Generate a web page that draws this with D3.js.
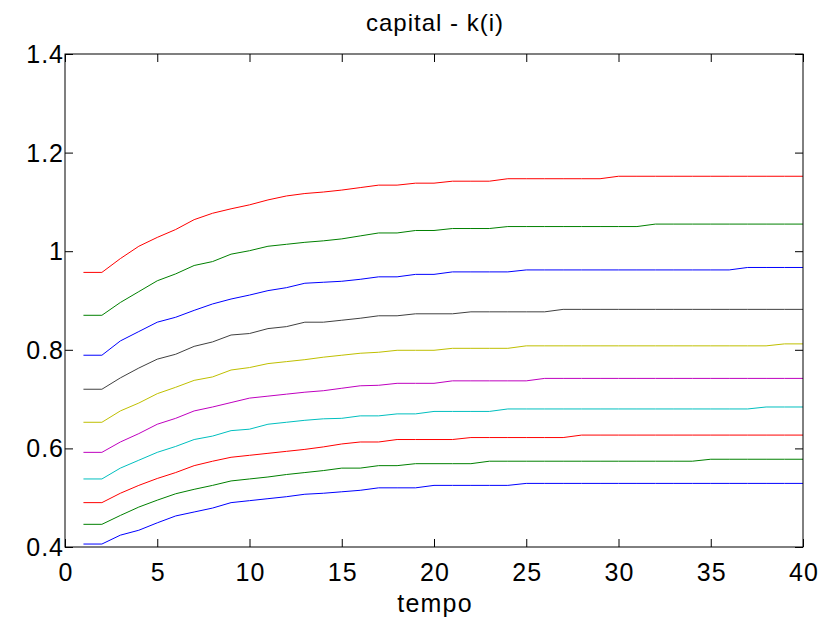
<!DOCTYPE html>
<html>
<head>
<meta charset="utf-8">
<script src="https://cdn.jsdelivr.net/npm/d3@7"></script>
<style>
  body { margin: 0; background: #fff; }
  svg text { font-family: "Liberation Sans", Arial, sans-serif; fill: #000; }
</style>
</head>
<body>
<svg id="chart"></svg>
<script>
// tempo (x) and the ten capital paths k(i), bottom to top
var tempo = [1,2,3,4,5,6,7,8,9,10,11,12,13,14,15,16,17,18,19,20,
             21,22,23,24,25,26,27,28,29,30,31,32,33,34,35,36,37,38,39,40];

var k1 = [0.406,0.406,0.424,0.434,0.449,0.463,0.471,0.479,0.490,0.494,0.498,0.502,0.507,0.509,0.512,0.515,0.520,0.520,0.520,0.525,
          0.525,0.525,0.525,0.525,0.529,0.529,0.529,0.529,0.529,0.529,0.529,0.529,0.529,0.529,0.529,0.529,0.529,0.529,0.529,0.529];
var k2 = [0.446,0.446,0.464,0.481,0.495,0.508,0.517,0.525,0.534,0.538,0.542,0.547,0.551,0.555,0.560,0.560,0.565,0.565,0.569,0.569,
          0.569,0.569,0.574,0.574,0.574,0.574,0.574,0.574,0.574,0.574,0.574,0.574,0.574,0.574,0.578,0.578,0.578,0.578,0.578,0.578];
var k3 = [0.490,0.490,0.509,0.525,0.539,0.551,0.565,0.574,0.582,0.586,0.590,0.594,0.598,0.603,0.609,0.613,0.613,0.618,0.618,0.618,
          0.618,0.622,0.622,0.622,0.622,0.622,0.622,0.627,0.627,0.627,0.627,0.627,0.627,0.627,0.627,0.627,0.627,0.627,0.627,0.627];
var k4 = [0.538,0.538,0.560,0.576,0.592,0.604,0.618,0.625,0.636,0.639,0.649,0.653,0.657,0.660,0.661,0.666,0.666,0.670,0.670,0.675,
          0.675,0.675,0.675,0.680,0.680,0.680,0.680,0.680,0.680,0.680,0.680,0.680,0.680,0.680,0.680,0.680,0.680,0.684,0.684,0.684];
var k5 = [0.592,0.592,0.613,0.630,0.649,0.661,0.676,0.684,0.693,0.702,0.706,0.710,0.714,0.717,0.722,0.727,0.728,0.732,0.732,0.732,
          0.737,0.737,0.737,0.737,0.737,0.742,0.742,0.742,0.742,0.742,0.742,0.742,0.742,0.742,0.742,0.742,0.742,0.742,0.742,0.742];
var k6 = [0.653,0.653,0.676,0.692,0.711,0.724,0.738,0.745,0.759,0.764,0.772,0.776,0.780,0.785,0.789,0.793,0.795,0.799,0.799,0.799,
          0.803,0.803,0.803,0.803,0.808,0.808,0.808,0.808,0.808,0.808,0.808,0.808,0.808,0.808,0.808,0.808,0.808,0.808,0.812,0.812];
var k7 = [0.720,0.720,0.743,0.763,0.781,0.791,0.807,0.816,0.830,0.833,0.843,0.847,0.856,0.856,0.860,0.864,0.869,0.869,0.873,0.873,
          0.873,0.877,0.877,0.877,0.877,0.877,0.882,0.882,0.882,0.882,0.882,0.882,0.882,0.882,0.882,0.882,0.882,0.882,0.882,0.882];
var k8 = [0.789,0.789,0.818,0.837,0.856,0.866,0.880,0.893,0.903,0.911,0.920,0.926,0.935,0.937,0.939,0.943,0.948,0.948,0.953,0.953,
          0.958,0.958,0.958,0.958,0.962,0.962,0.962,0.962,0.962,0.962,0.962,0.962,0.962,0.962,0.962,0.962,0.967,0.967,0.967,0.967];
var k9 = [0.870,0.870,0.896,0.918,0.940,0.954,0.971,0.979,0.994,1.001,1.010,1.014,1.018,1.021,1.025,1.031,1.037,1.037,1.042,1.042,
          1.046,1.046,1.046,1.050,1.050,1.050,1.050,1.050,1.050,1.050,1.050,1.055,1.055,1.055,1.055,1.055,1.055,1.055,1.055,1.055];
var k10 = [0.957,0.957,0.985,1.010,1.028,1.044,1.064,1.077,1.086,1.094,1.104,1.112,1.117,1.120,1.124,1.129,1.134,1.134,1.138,1.138,
           1.142,1.142,1.142,1.147,1.147,1.147,1.147,1.147,1.147,1.152,1.152,1.152,1.152,1.152,1.152,1.152,1.152,1.152,1.152,1.152];

var series = [k1, k2, k3, k4, k5, k6, k7, k8, k9, k10];
var xTicks = [0,5,10,15,20,25,30,35,40];
var yTicks = [0.4,0.6,0.8,1.0,1.2,1.4];

// matlab default color order
var colores = ["#0000ff","#008000","#ff0000","#00bfbf","#bf00bf","#bfbf00","#404040"];

var config = { width: 823, height: 629, left: 65, right: 20, top: 54, bottom: 82 };
var w = config.width - config.left - config.right;
var h = config.height - config.top - config.bottom;

var x = d3.scaleLinear().domain([0, 40]).range([0, w]);
var y = d3.scaleLinear().domain([0.4, 1.4]).range([h, 0]);

var svg = d3.select("#chart")
    .attr("width", config.width)
    .attr("height", config.height);

var g = svg.append("g")
    .attr("transform", "translate(" + config.left + "," + config.top + ")");

var line = d3.line()
    .x(function(d, i) { return x(tempo[i]); })
    .y(function(d) { return y(d); });

g.selectAll(".serie")
    .data(series)
    .enter().append("path")
    .attr("class", "serie")
    .attr("fill", "none")
    .attr("stroke", function(d, i) { return colores[i % colores.length]; })
    .attr("stroke-width", 1)
    .attr("d", line);

// axes, ticks pointing inward on all four sides
var ejeX = d3.axisBottom(x).tickValues(xTicks).tickSizeInner(-8).tickSizeOuter(0).tickPadding(16)
    .tickFormat(d3.format("d"));
var ejeY = d3.axisLeft(y).tickValues(yTicks).tickSizeInner(-8).tickSizeOuter(0).tickPadding(1)
    .tickFormat(function(d) { return d3.format("~g")(d); });

g.append("g").attr("class", "ejeX").attr("transform", "translate(0," + h + ")").call(ejeX);
g.append("g").attr("class", "ejeY").call(ejeY);
g.append("g").call(d3.axisTop(x).tickValues(xTicks).tickSizeInner(-8).tickSizeOuter(0).tickFormat(""));
g.append("g").attr("transform", "translate(" + w + ",0)")
    .call(d3.axisRight(y).tickValues(yTicks).tickSizeInner(-8).tickSizeOuter(0).tickFormat(""));

g.selectAll(".domain").remove();
g.selectAll(".tick line").attr("stroke", "#000");
g.selectAll(".tick text")
    .style("font-size", "25px")
    .style("letter-spacing", "1px")
    .attr("fill", "#000");
// keep x labels centred despite the trailing letter spacing
g.selectAll(".ejeX .tick text").attr("dx", "0.5px");
g.selectAll(".ejeY .tick text").attr("dy", "0.34em");

g.append("rect")
    .attr("x", 0).attr("y", 0).attr("width", w).attr("height", h)
    .attr("fill", "none").attr("stroke", "#000").attr("stroke-width", 1);

svg.append("text")
    .attr("x", config.left + w / 2 + 1).attr("y", 31)
    .attr("text-anchor", "middle")
    .style("font-size", "24px")
    .style("letter-spacing", "1px")
    .text("capital - k(i)");

svg.append("text")
    .attr("x", config.left + w / 2 + 1).attr("y", 612)
    .attr("text-anchor", "middle")
    .style("font-size", "25px")
    .style("letter-spacing", "1.2px")
    .text("tempo");
</script>
</body>
</html>
